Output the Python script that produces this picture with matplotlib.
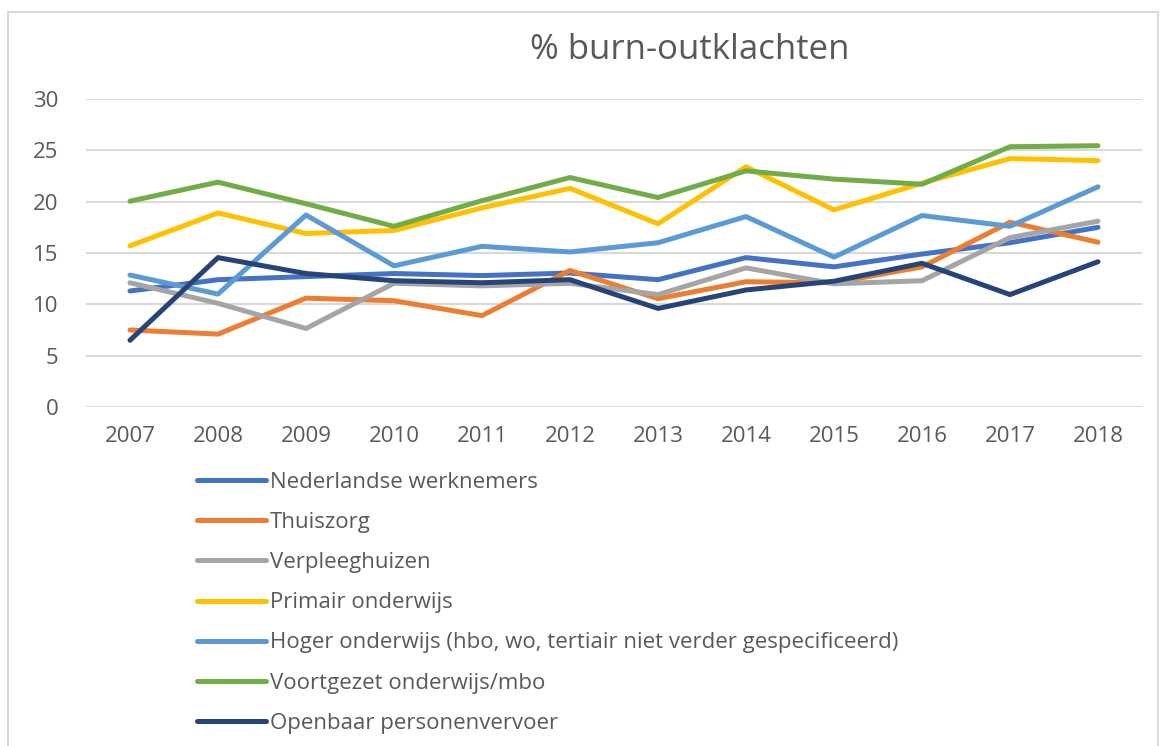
import matplotlib
matplotlib.use("Agg")
from matplotlib import pyplot as plt
from matplotlib.patches import Rectangle
import numpy as np

# data
years = ["2007", "2008", "2009", "2010", "2011", "2012", "2013", "2014", "2015", "2016", "2017", "2018"]
nederlandse = [11.3, 12.4, 12.7, 13.0, 12.8, 13.05, 12.4, 14.55, 13.65, 14.9, 16.0, 17.5]
thuiszorg = [7.5, 7.1, 10.6, 10.35, 8.9, 13.3, 10.55, 12.2, 12.1, 13.65, 18.0, 16.05]
verpleeghuizen = [12.1, 10.1, 7.65, 12.05, 11.8, 12.05, 10.95, 13.55, 12.0, 12.3, 16.5, 18.1]
primair = [15.7, 18.9, 16.9, 17.2, 19.4, 21.3, 17.85, 23.4, 19.2, 21.8, 24.2, 24.0]
hoger = [12.85, 11.0, 18.7, 13.75, 15.65, 15.1, 16.0, 18.55, 14.6, 18.65, 17.6, 21.45]
voortgezet = [20.05, 21.9, 19.8, 17.6, 20.1, 22.35, 20.4, 23.0, 22.2, 21.7, 25.35, 25.45]
openbaar = [6.5, 14.55, 13.0, 12.3, 12.1, 12.4, 9.6, 11.4, 12.25, 14.0, 10.95, 14.15]

labels = ["Nederlandse werknemers", "Thuiszorg", "Verpleeghuizen", "Primair onderwijs",
          "Hoger onderwijs (hbo, wo, tertiair niet verder gespecificeerd)",
          "Voortgezet onderwijs/mbo", "Openbaar personenvervoer"]
series = [nederlandse, thuiszorg, verpleeghuizen, primair, hoger, voortgezet, openbaar]
colors = ["#4472C4", "#ED7D31", "#A5A5A5", "#FFC000", "#5B9BD5", "#70AD47", "#264478"]

plt.rcParams['font.family'] = ['Open Sans', 'DejaVu Sans']
txt = "#595959"

fig = plt.figure(figsize=(11.62, 7.46), dpi=100)
fig.patches.append(Rectangle((8 / 1162, -0.01), 1150 / 1162, 1 - 12 / 746 + 0.01,
                             transform=fig.transFigure, fill=False,
                             edgecolor="#D9D9D9", lw=1.5))

ax = fig.add_axes([86 / 1162, 1 - 407 / 746, 1056 / 1162, 308 / 746])
x = np.arange(len(years))
for s, lab, c in zip(series, labels, colors):
    ax.plot(x, s, color=c, lw=3.6, label=lab, solid_capstyle="round", solid_joinstyle="round")

ax.set_xlim(-0.5, len(years) - 0.5)
ax.set_ylim(0, 30)
ax.set_yticks(range(0, 31, 5))
ax.set_xticks(x)
ax.set_xticklabels(years)
ax.grid(axis="y", color="#D9D9D9", lw=1.5)
ax.set_axisbelow(True)
for sp in ax.spines.values():
    sp.set_visible(False)
ax.tick_params(length=0, labelsize=16, colors=txt)
ax.tick_params(axis="y", pad=20)
ax.tick_params(axis="x", pad=14)

fig.text(690 / 1162, 1 - 50 / 746, "% burn-outklachten", ha="center", va="center",
         fontsize=25, color=txt)

leg = ax.legend(loc="upper left", bbox_to_anchor=(197 / 1162, 1 - 472 / 746),
                bbox_transform=fig.transFigure, frameon=False, fontsize=16,
                handlelength=3.1, handletextpad=0.18, labelspacing=0.86,
                borderpad=0, borderaxespad=0)
for t in leg.get_texts():
    t.set_color(txt)

fig.savefig("out.png", dpi=100)
